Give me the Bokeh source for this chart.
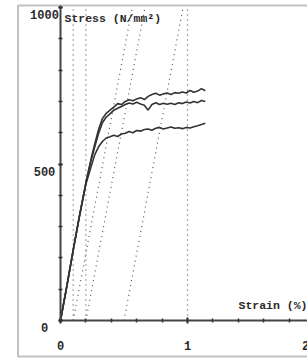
from bokeh.plotting import figure
from bokeh.models import (LinearAxis, SingleIntervalTicker, BoxAnnotation,
                          Label, Range1d)
from bokeh.embed import file_html
from bokeh.resources import INLINE

# ---- data -------------------------------------------------------------
strain = [0, 0.05, 0.10, 0.15, 0.20, 0.24, 0.27, 0.30, 0.33, 0.36, 0.39, 0.42,
          0.45, 0.48, 0.51, 0.54, 0.57, 0.60, 0.63, 0.66, 0.69, 0.72, 0.75,
          0.78, 0.81, 0.84, 0.87, 0.90, 0.93, 0.96, 0.99, 1.02, 1.05, 1.08,
          1.11, 1.14]
stress_top = [0, 110, 225, 335, 440, 515, 565, 610, 645, 662, 672, 682, 693,
              690, 700, 705, 702, 708, 712, 706, 716, 722, 726, 720, 724, 727,
              722, 728, 726, 730, 727, 735, 729, 733, 741, 734]
stress_mid = [0, 110, 225, 335, 440, 510, 555, 598, 632, 650, 660, 672, 678,
              684, 690, 695, 692, 697, 692, 688, 672, 690, 696, 690, 694, 691,
              694, 690, 696, 693, 698, 695, 700, 696, 703, 700]
stress_low = [0, 110, 225, 335, 435, 490, 530, 555, 572, 583, 587, 592, 588,
              596, 598, 604, 600, 607, 605, 610, 612, 608, 614, 617, 612, 615,
              618, 614, 616, 613, 617, 615, 619, 622, 626, 630]

offset_lines = [0.1, 0.2, 0.5]        # strain offsets of the dotted modulus lines
vertical_lines = [0.1, 0.2, 1.0]      # dotted vertical strain marks
modulus = 2150                        # N/mm^2 per % strain
stress_limit = 1000
x_tick_labels = [0, 1, 2]
y_tick_labels = [0, 500, 1000]

# ---- geometry ---------------------------------------------------------
x_start, x_end = -0.4724, 1.9449
y_start, y_end = -121.4, 1022.4

p = figure(width=307, height=358, output_backend="svg", toolbar_location=None,
           x_range=Range1d(x_start, x_end), y_range=Range1d(y_start, y_end),
           x_axis_type=None, y_axis_type=None,
           min_border_left=0, min_border_right=0, min_border_top=0,
           min_border_bottom=0)
p.grid.visible = False
p.outline_line_color = None
p.background_fill_color = "white"
p.border_fill_color = "white"

FONT = "Liberation Mono"
INK = "#2a2a2a"

# outer frame (its right side lies beyond the visible area)
p.add_layout(BoxAnnotation(left=-0.3346, right=2.2, top=1006.4, bottom=-115.0,
                           fill_alpha=0, line_color="#333333", line_width=2))

# dotted guide lines
xs = [[v, v] for v in vertical_lines] + \
     [[o, o + stress_limit / modulus] for o in offset_lines]
ys = [[0, stress_limit] for _ in vertical_lines] + \
     [[0, stress_limit] for _ in offset_lines]
p.multi_line(xs, ys, line_color="#555555", line_width=1.2, line_dash="1 4")

# stress-strain curves
for s in (stress_low, stress_mid, stress_top):
    p.line(strain, s, line_color="#333333", line_width=1.6)

# axes at origin
yaxis = LinearAxis(fixed_location=0, bounds=(0, 1006.4),
                   ticker=SingleIntervalTicker(interval=500, num_minor_ticks=5))
xaxis = LinearAxis(fixed_location=0, bounds=(0, x_end),
                   ticker=SingleIntervalTicker(interval=1, num_minor_ticks=5))
for ax in (yaxis, xaxis):
    ax.axis_line_color = "#444444"
    ax.axis_line_width = 2
    ax.major_tick_line_color = "#333333"
    ax.minor_tick_line_color = "#333333"
    ax.major_tick_line_width = 2
    ax.minor_tick_line_width = 1.5
    ax.major_label_text_font = FONT
    ax.major_label_text_font_style = "bold"
    ax.major_label_text_font_size = "12px"
    ax.major_label_text_color = INK
yaxis.major_tick_in = 2
yaxis.major_tick_out = 2
yaxis.minor_tick_in = 2
yaxis.minor_tick_out = 2
yaxis.major_label_text_alpha = 0   # labels drawn below, placed like the original
xaxis.major_tick_in = 3
xaxis.major_tick_out = 3
xaxis.minor_tick_in = 2
xaxis.minor_tick_out = 2
xaxis.major_label_standoff = 17
p.add_layout(yaxis, "left")
p.add_layout(xaxis, "below")

for v in y_tick_labels:
    p.add_layout(Label(x=0, y=v, text=str(v), x_offset=-16, y_offset=-7,
                       text_align="center", text_baseline="middle",
                       text_font=FONT, text_font_style="bold",
                       text_font_size="12px", text_color=INK))

# label of the tick at 2 (just beyond the visible range)
p.add_layout(Label(x=x_tick_labels[2], y=0, text=str(x_tick_labels[2]),
                   x_offset=-9, y_offset=-20, text_align="center",
                   text_baseline="top", text_font=FONT, text_font_style="bold",
                   text_font_size="12px", text_color=INK))

# axis titles
p.add_layout(Label(x=0, y=y_tick_labels[2], text="Stress (N/mm²)",
                   x_offset=4, y_offset=-4, text_align="left",
                   text_baseline="top", text_font=FONT, text_font_style="bold",
                   text_font_size="11.5px", text_color=INK))
p.add_layout(Label(x=x_end, y=0, text="Strain (%)",
                   x_offset=0, y_offset=9, text_align="right",
                   text_baseline="bottom", text_font=FONT, text_font_style="bold",
                   text_font_size="11.5px", text_color=INK))

open("out.html", "w").write(file_html(p, INLINE))
